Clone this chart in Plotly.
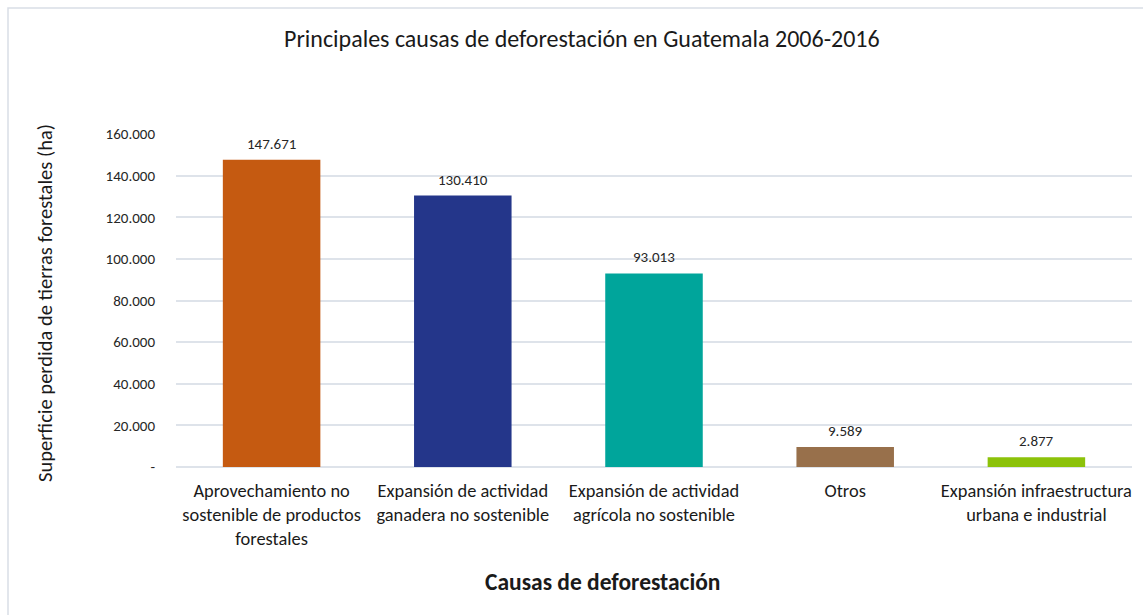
import plotly.graph_objects as go

categories = [
    "Aprovechamiento no<br>sostenible de productos<br>forestales",
    "Expansión de actividad<br>ganadera no sostenible",
    "Expansión de actividad<br>agrícola no sostenible",
    "Otros",
    "Expansión infraestructura<br>urbana e industrial",
]
label_values = [147671, 130410, 93013, 9589, 2877]
bar_heights = [147671, 130410, 93013, 9589, 4700]
colors = ["#C55A11", "#24368A", "#00A59B", "#98704B", "#8CC20A"]
y_tickvals = [0, 20000, 40000, 60000, 80000, 100000, 120000, 140000, 160000]
y_ticktext = ["-", "20.000", "40.000", "60.000", "80.000", "100.000", "120.000", "140.000", "160.000"]

FONT = "Carlito, Lato, 'Liberation Sans', sans-serif"

def fmt(v):
    return f"{v:,}".replace(",", ".")

fig = go.Figure()
fig.add_trace(go.Bar(
    x=categories, y=bar_heights,
    marker=dict(color=colors, line=dict(width=0)),
    width=0.51, hoverinfo="skip",
))

for c, h, v in zip(categories, bar_heights, label_values):
    fig.add_annotation(x=c, y=h, text=fmt(v), showarrow=False,
                       yanchor="bottom", yshift=5,
                       font=dict(family=FONT, size=15, color="#262626"))

W, H = 1143, 615
L, R, T, B = 176, 11, 134, 148
pw, ph = W - L - R, H - T - B

def px(x):
    return (x - L) / pw

def py(y):
    return (H - B - y) / ph

fig.add_shape(type="rect", xref="paper", yref="paper",
              x0=px(8), x1=px(1250), y0=py(720), y1=py(8),
              line=dict(color="#D9DEE6", width=1.5), fillcolor="rgba(0,0,0,0)", layer="below")

fig.add_annotation(xref="paper", yref="paper", x=px(582), y=py(38), text="Principales causas de deforestación en Guatemala 2006-2016",
                   showarrow=False, xanchor="center", yanchor="middle",
                   font=dict(family=FONT, size=24, color="#1a1a1a"))
fig.add_annotation(xref="paper", yref="paper", x=px(602), y=py(582), text="<b>Causas de deforestación</b>",
                   showarrow=False, xanchor="center", yanchor="middle",
                   font=dict(family=FONT, size=23.5, color="#1a1a1a"))
fig.add_annotation(xref="paper", yref="paper", x=px(45), y=py(303), text="Superficie perdida de tierras forestales (ha)",
                   showarrow=False, xanchor="center", yanchor="middle", textangle=-90,
                   font=dict(family=FONT, size=20.5, color="#1a1a1a"))

fig.update_layout(
    width=W, height=H,
    margin=dict(l=L, r=R, t=T, b=B),
    paper_bgcolor="white", plot_bgcolor="white",
    showlegend=False,
    bargap=0.49,
    font=dict(family=FONT, color="#1a1a1a"),
)
fig.update_xaxes(showgrid=False, showline=False, ticks="", tickfont=dict(family=FONT, size=18.4, color="#1a1a1a"),
                 tickangle=0, ticklabelstandoff=11)
fig.update_yaxes(range=[0, 160000], tickvals=y_tickvals, ticktext=y_ticktext,
                 showgrid=True, gridcolor="#DEE3EA", gridwidth=1.5, zeroline=True, zerolinecolor="#DEE3EA", zerolinewidth=1.5,
                 showline=False, ticks="", ticklabelstandoff=20,
                 tickfont=dict(family=FONT, size=15, color="#262626"))

fig.write_html("out.html")
